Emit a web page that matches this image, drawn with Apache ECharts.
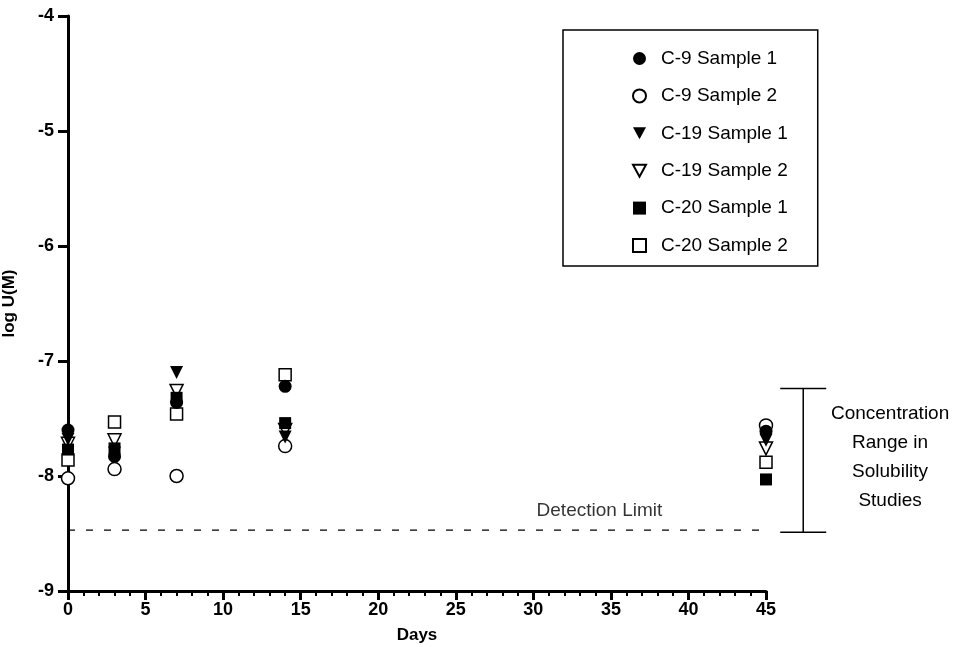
<!DOCTYPE html>
<html>
<head>
<meta charset="utf-8">
<script src="https://cdn.jsdelivr.net/npm/echarts@6/dist/echarts.min.js"></script>
<style>
  html, body { margin: 0; padding: 0; background: #fff; }
  #chart { width: 956px; height: 647px; }
</style>
</head>
<body>
<div id="chart"></div>
<script>
// sampling days
const days = [0, 3, 7, 14, 45];
// log U(M) per sample
const c9s1 = [-7.60, -7.83, -7.36, -7.22, -7.61];
const c9s2 = [-8.02, -7.94, -8.00, -7.74, -7.56];
const c19s1 = [-7.68, -7.80, -7.10, -7.66, -7.69];
const c19s2 = [-7.72, -7.69, -7.26, -7.60, -7.76];
const c20s1 = [-7.77, -7.76, -7.32, -7.54, -8.03];
const c20s2 = [-7.86, -7.53, -7.46, -7.12, -7.88];

const detectionLimit = -8.47;
const detectionSpan = [0, 45];
const rangeTop = -7.24;
const rangeBottom = -8.49;

const font = '"Liberation Sans", Arial, sans-serif';
const black = '#000';
const downTriangle = 'path://M0,0L14,0L7,13Z';

const pts = (vals) => days.map((d, i) => [d, vals[i]]);

const scatter = (name, vals, symbol, filled, rotate) => ({
    name: name,
    type: 'scatter',
    data: pts(vals),
    symbol: symbol,
    symbolSize: symbol === 'rect' ? 12 : 13,
    symbolRotate: rotate || 0,
    clip: false,
    itemStyle: {
        color: filled ? black : '#fff',
        borderColor: black,
        borderWidth: filled ? 0 : 1.5,
        opacity: 1
    },
    emphasis: { disabled: true }
});

const chart = echarts.init(document.getElementById('chart'));
chart.setOption({
    animation: false,
    backgroundColor: '#fff',
    textStyle: { fontFamily: font },
    grid: { left: 68, right: 190, top: 16, bottom: 56, outerBoundsMode: 'none', containLabel: false },
    legend: {
        orient: 'vertical',
        left: 563,
        top: 30,
        padding: [19, 30, 11, 69],
        borderColor: black,
        borderWidth: 1.5,
        itemWidth: 13,
        itemHeight: 13,
        itemGap: 18.4,
        textStyle: { fontSize: 19, color: black, fontFamily: font, padding: [0, 0, 0, 10] },
        data: [
            { name: 'C-9 Sample 1', icon: 'circle' },
            { name: 'C-9 Sample 2', icon: 'circle' },
            { name: 'C-19 Sample 1', icon: downTriangle },
            { name: 'C-19 Sample 2', icon: downTriangle },
            { name: 'C-20 Sample 1', icon: 'rect' },
            { name: 'C-20 Sample 2', icon: 'rect' }
        ]
    },
    xAxis: {
        type: 'value',
        min: 0,
        max: 45,
        interval: 5,
        name: 'Days',
        nameLocation: 'middle',
        nameGap: 36,
        nameTextStyle: { fontSize: 17, fontWeight: 'bold', color: black },
        axisLine: { onZero: false, lineStyle: { color: black, width: 3 } },
        axisTick: { length: 9, lineStyle: { color: black, width: 3 } },
        minorTick: { show: true, splitNumber: 5, length: 5, lineStyle: { color: black, width: 2 } },
        axisLabel: { fontSize: 18, fontWeight: 'bold', color: black, margin: 10 },
        splitLine: { show: false }
    },
    yAxis: {
        type: 'value',
        min: -9,
        max: -4,
        interval: 1,
        name: 'log U(M)',
        nameLocation: 'middle',
        nameGap: 50,
        nameTextStyle: { fontSize: 17, fontWeight: 'bold', color: black },
        axisLine: { onZero: false, lineStyle: { color: black, width: 3 } },
        axisTick: { length: 10, lineStyle: { color: black, width: 3 } },
        axisLabel: { fontSize: 18, fontWeight: 'bold', color: black, margin: 14 },
        splitLine: { show: false }
    },
    series: [
        {
            name: 'Detection Limit',
            type: 'line',
            data: detectionSpan.map(d => [d, detectionLimit]),
            symbol: 'none',
            clip: false,
            silent: true,
            lineStyle: { color: black, width: 1.2, type: [7, 11] }
        },
        {
            type: 'scatter',
            data: [[34.26, detectionLimit]],
            symbolSize: 0,
            silent: true,
            label: {
                show: true,
                formatter: 'Detection Limit',
                position: 'top',
                distance: 10,
                fontSize: 19,
                color: black
            }
        },
        {
            type: 'custom',
            clip: false,
            silent: true,
            data: [[47.4, rangeTop, rangeBottom, 53.0, -7.84]],
            renderItem: function (params, api) {
                const top = api.coord([api.value(0), api.value(1)]);
                const bot = api.coord([api.value(0), api.value(2)]);
                const txt = api.coord([api.value(3), api.value(4)]);
                const half = 23;
                const st = { stroke: black, lineWidth: 1.5 };
                return {
                    type: 'group',
                    children: [
                        { type: 'line', shape: { x1: top[0], y1: top[1], x2: bot[0], y2: bot[1] }, style: st },
                        { type: 'line', shape: { x1: top[0] - half, y1: top[1], x2: top[0] + half, y2: top[1] }, style: st },
                        { type: 'line', shape: { x1: bot[0] - half, y1: bot[1], x2: bot[0] + half, y2: bot[1] }, style: st },
                        {
                            type: 'text',
                            x: txt[0],
                            y: txt[1],
                            style: {
                                text: 'Concentration\nRange in\nSolubility\nStudies',
                                fill: black,
                                font: '19px ' + font,
                                align: 'center',
                                verticalAlign: 'middle',
                                lineHeight: 29
                            }
                        }
                    ]
                };
            }
        },
        scatter('C-20 Sample 2', c20s2, 'rect', false),
        scatter('C-19 Sample 2', c19s2, 'triangle', false, 180),
        scatter('C-9 Sample 2', c9s2, 'circle', false),
        scatter('C-20 Sample 1', c20s1, 'rect', true),
        scatter('C-19 Sample 1', c19s1, 'triangle', true, 180),
        scatter('C-9 Sample 1', c9s1, 'circle', true)
    ]
});
</script>
</body>
</html>
